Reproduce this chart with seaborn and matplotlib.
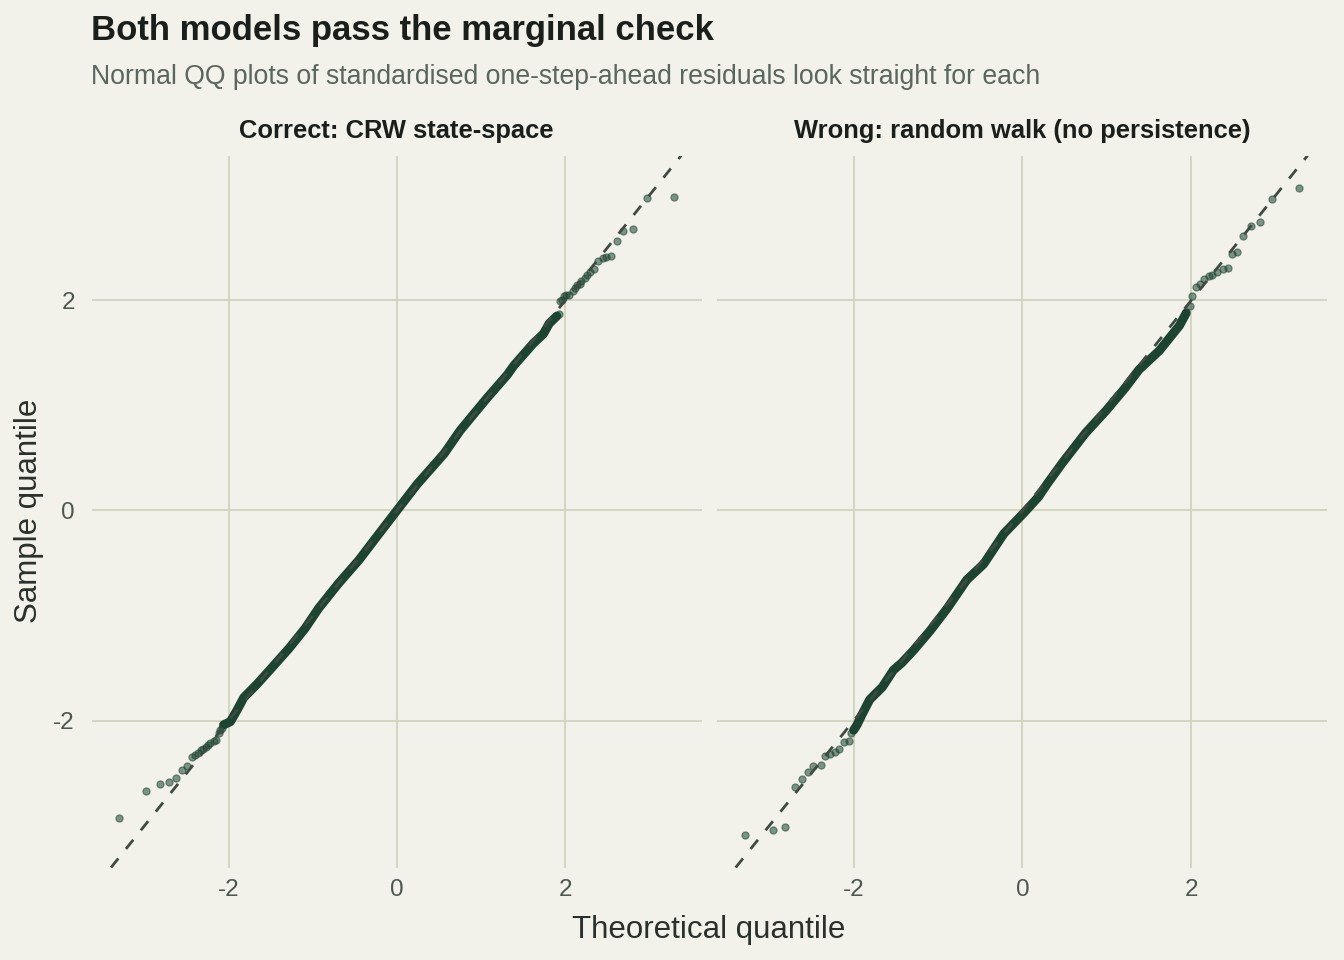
import numpy as np
import pandas as pd
from matplotlib import pyplot as plt
import seaborn as sns

bg = '#f2f1ea'
grid_col = '#d5d5c4'
pt_col = '#1c4430'
line_col = '#3f4a43'

# Correct model (CRW state-space): dense middle of the QQ cloud + sparse tails
crw_band_theo = [-2.06, -1.98, -1.90, -1.82, -1.66, -1.48, -1.28, -1.09, -0.93, -0.69, -0.45, -0.26,
                 -0.02, 0.24, 0.56, 0.75, 1.07, 1.31, 1.39, 1.62, 1.74, 1.81, 1.90]
crw_band_sample = [-2.04, -2.01, -1.90, -1.78, -1.65, -1.49, -1.31, -1.12, -0.93, -0.69, -0.47, -0.27,
                   -0.02, 0.25, 0.54, 0.76, 1.07, 1.29, 1.38, 1.59, 1.68, 1.78, 1.85]
crw_tail_theo = [-3.30, -2.98, -2.82, -2.71, -2.62, -2.56, -2.50, -2.44, -2.40, -2.37, -2.33, -2.30,
                 -2.27, -2.24, -2.22, -2.18, -2.15, -2.12, -2.10, -2.08,
                 1.93, 1.94, 1.96, 1.98, 2.01, 2.05, 2.09, 2.12, 2.14, 2.17, 2.19, 2.23, 2.26, 2.29,
                 2.34, 2.39, 2.45, 2.49, 2.54, 2.61, 2.69, 2.80, 2.97, 3.29]
crw_tail_sample = [-2.93, -2.67, -2.60, -2.58, -2.55, -2.47, -2.43, -2.35, -2.33, -2.31, -2.28, -2.27,
                   -2.25, -2.23, -2.21, -2.19, -2.18, -2.12, -2.09, -2.07,
                   1.87, 1.99, 2.00, 2.04, 2.05, 2.05, 2.09, 2.12, 2.15, 2.16, 2.18, 2.21, 2.24, 2.27,
                   2.30, 2.37, 2.40, 2.41, 2.42, 2.56, 2.66, 2.68, 2.97, 2.98]

# Wrong model (random walk)
rw_band_theo = [-2.00, -1.96, -1.90, -1.81, -1.66, -1.53, -1.43, -1.29, -1.09, -0.89, -0.66, -0.46,
                -0.22, 0.02, 0.19, 0.29, 0.47, 0.75, 0.99, 1.22, 1.38, 1.62, 1.78, 1.86, 1.94]
rw_band_sample = [-2.09, -2.04, -1.94, -1.80, -1.68, -1.52, -1.45, -1.33, -1.14, -0.93, -0.66, -0.51,
                  -0.22, -0.02, 0.13, 0.25, 0.45, 0.74, 0.95, 1.17, 1.34, 1.52, 1.68, 1.76, 1.88]
rw_tail_theo = [-3.29, -2.96, -2.81, -2.69, -2.61, -2.54, -2.48, -2.39, -2.34, -2.28, -2.22, -2.17,
                -2.12, -2.06, -2.03,
                1.98, 2.01, 2.05, 2.10, 2.15, 2.21, 2.25, 2.31, 2.38, 2.43, 2.48, 2.54, 2.61, 2.71,
                2.81, 2.96, 3.28]
rw_tail_sample = [-3.09, -3.04, -3.01, -2.63, -2.56, -2.49, -2.43, -2.42, -2.34, -2.32, -2.30, -2.27,
                  -2.20, -2.19, -2.12,
                  1.95, 2.04, 2.13, 2.16, 2.20, 2.23, 2.24, 2.27, 2.30, 2.31, 2.44, 2.46, 2.61, 2.71,
                  2.75, 2.96, 3.07]

panels = [
    ("Correct: CRW state-space", crw_band_theo, crw_band_sample, crw_tail_theo, crw_tail_sample),
    ("Wrong: random walk (no persistence)", rw_band_theo, rw_band_sample, rw_tail_theo, rw_tail_sample),
]
ticks = [-2, 0, 2]
tick_labels = ['-2', '0', '2']

sns.set_style('white', {'axes.facecolor': bg, 'figure.facecolor': bg})
plt.rcParams['font.family'] = ['Liberation Sans', 'DejaVu Sans']
plt.rcParams['axes.unicode_minus'] = False

fig, axes = plt.subplots(1, 2, sharey=True, figsize=(13.44, 9.6), dpi=100)
fig.subplots_adjust(left=0.0681, right=0.9874, bottom=0.0963, top=0.838, wspace=0.0254)

for ax, (name, bx, by, tx, ty) in zip(axes, panels):
    band = pd.DataFrame({'theo': bx, 'sample': by})
    tail = pd.DataFrame({'theo': tx, 'sample': ty})
    # the middle of the cloud is so dense the points merge into one thick stroke
    sns.lineplot(data=band, x='theo', y='sample', ax=ax, sort=False, estimator=None,
                 color=pt_col, linewidth=6.5, solid_capstyle='round', solid_joinstyle='round', zorder=3)
    sns.scatterplot(data=tail, x='theo', y='sample', ax=ax, color=pt_col, alpha=0.55,
                    s=26, edgecolor=pt_col, linewidth=0.9, zorder=3)
    ax.margins(x=0.05, y=0.05)
    ax.axline((0, 0), slope=1, color=line_col, linewidth=2, linestyle=(0, (4.2, 4.4)), zorder=4)
    ax.set_xticks(ticks)
    ax.set_xticklabels(tick_labels)
    ax.set_yticks(ticks)
    ax.set_yticklabels(tick_labels)
    ax.grid(True, color=grid_col, linewidth=1.45)
    ax.set_axisbelow(True)
    for s in ax.spines.values():
        s.set_visible(False)
    ax.tick_params(axis='both', length=0, labelsize=17.5, labelcolor='#4d5750')
    ax.tick_params(axis='x', pad=8)
    ax.tick_params(axis='y', pad=12)
    ax.set_xlabel('')
    ax.set_ylabel('')
    ax.set_title(name, fontsize=18.35, fontweight='bold', color='#1a1f1c', pad=12.6)

fig.text(91.5 / 1344, 1 - 40 / 960, "Both models pass the marginal check",
         fontsize=25, fontweight='bold', color='#1a1f1c', va='baseline', ha='left')
fig.text(91.5 / 1344, 1 - 83.5 / 960,
         "Normal QQ plots of standardised one-step-ahead residuals look straight for each",
         fontsize=19.15, color='#5b665f', va='baseline', ha='left')
fig.text(709 / 1344, 1 - 938 / 960, "Theoretical quantile", fontsize=22.5, color='#2a302c',
         va='baseline', ha='center')
fig.text(29 / 1344, 1 - 511 / 960, "Sample quantile", fontsize=22.5, color='#2a302c',
         va='center', ha='center', rotation=90)

fig.savefig('out.png', dpi=100, facecolor=bg)
